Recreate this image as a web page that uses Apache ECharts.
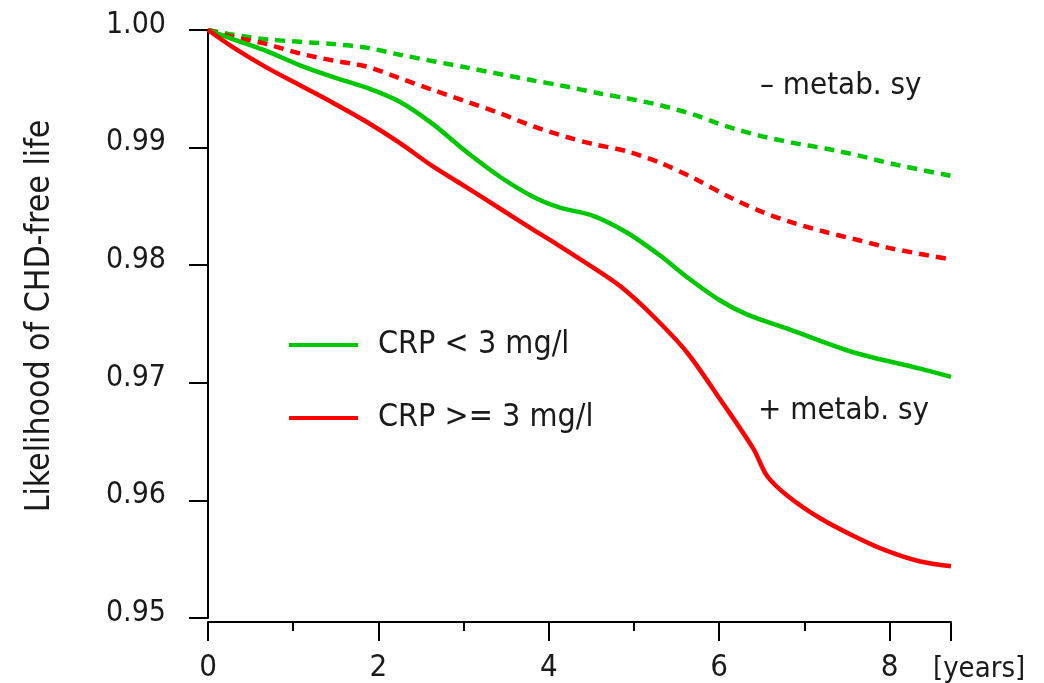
<!DOCTYPE html>
<html>
<head>
<meta charset="utf-8">
<script src="https://cdn.jsdelivr.net/npm/echarts@6/dist/echarts.min.js"></script>
<style>
html,body{margin:0;padding:0;background:#fff;}
#chart{width:1044px;height:683px;}
</style>
</head>
<body>
<div id="chart"></div>
<script>
// ---- data ----
var xTicks = [0, 2, 4, 6, 8];
var yTicks = [0.95, 0.96, 0.97, 0.98, 0.99, 1.00];

var greenSolidX = [0, 0.30, 0.69, 1.08, 1.47, 1.86, 2.25, 2.64, 3.04, 3.43, 3.82, 4.13, 4.52, 4.91, 5.31, 5.62, 6.01, 6.33, 6.80, 7.57, 8.36, 8.72];
var greenSolidY = [1.0000, 0.9992, 0.9982, 0.9970, 0.9960, 0.9951, 0.9939, 0.9920, 0.9896, 0.9875, 0.9858, 0.9849, 0.9842, 0.9828, 0.9808, 0.9790, 0.9770, 0.9758, 0.9746, 0.9726, 0.9712, 0.9705];

var redSolidX = [0, 0.30, 0.69, 1.08, 1.47, 1.86, 2.25, 2.64, 3.04, 3.43, 3.82, 4.09, 4.52, 4.84, 5.22, 5.62, 6.01, 6.40, 6.56, 6.80, 7.18, 7.57, 7.97, 8.36, 8.72];
var redSolidY = [1.0000, 0.9985, 0.9968, 0.9953, 0.9938, 0.9922, 0.9904, 0.9884, 0.9866, 0.9848, 0.9830, 0.9818, 0.9798, 0.9782, 0.9757, 0.9726, 0.9686, 0.9644, 0.9621, 0.9604, 0.9585, 0.9570, 0.9557, 0.9548, 0.9544];

var greenDashX = [0, 0.30, 0.69, 1.47, 1.86, 2.25, 3.04, 3.82, 4.13, 4.60, 4.91, 5.31, 5.70, 6.09, 6.48, 6.87, 7.26, 7.65, 8.04, 8.72];
var greenDashY = [1.0000, 0.9996, 0.9992, 0.9988, 0.9985, 0.9979, 0.9968, 0.9957, 0.9953, 0.9946, 0.9942, 0.9936, 0.9928, 0.9918, 0.9910, 0.9904, 0.9899, 0.9893, 0.9886, 0.9876];

var redDashX = [0, 0.30, 0.69, 1.08, 1.47, 1.86, 2.25, 2.64, 3.04, 3.43, 3.82, 4.21, 4.52, 4.91, 5.31, 5.70, 6.09, 6.48, 6.87, 7.26, 7.65, 8.04, 8.72];
var redDashY = [1.0000, 0.9994, 0.9988, 0.9980, 0.9974, 0.9969, 0.9959, 0.9949, 0.9939, 0.9929, 0.9918, 0.9909, 0.9903, 0.9897, 0.9887, 0.9874, 0.9859, 0.9846, 0.9836, 0.9828, 0.9821, 0.9814, 0.9805];

var legendNames = ['CRP < 3 mg/l', 'CRP >= 3 mg/l'];
var yTitle = 'Likelihood of CHD-free life';
var xUnit = '[years]';
var annoMinus = '\u2013 metab. sy';
var annoPlus = '+ metab. sy';

// ---- chart ----
var FONT = "'DejaVu Sans Condensed', 'DejaVu Sans', sans-serif";
var TXT = '#1a1a1a';
var GREEN = '#00c800';
var RED = '#ff0000';

function pairs(xs, ys) { return xs.map(function (x, i) { return [x, ys[i]]; }); }

function lineSeries(name, xs, ys, color, dashed) {
  return {
    name: name,
    type: 'line',
    data: pairs(xs, ys),
    smooth: 0.3,
    showSymbol: false,
    symbol: 'none',
    lineStyle: { color: color, width: 4.5, type: dashed ? [10, 7] : 'solid', cap: 'butt' },
    itemStyle: { color: color },
    z: dashed ? 2 : 3
  };
}

var chart = echarts.init(document.getElementById('chart'), null, { renderer: 'canvas' });
chart.setOption({
  animation: false,
  backgroundColor: '#ffffff',
  grid: { left: 208, right: 93, top: 30, bottom: 63, containLabel: false },
  legend: {
    data: legendNames,
    orient: 'vertical',
    left: 284,
    top: 322,
    icon: 'rect',
    itemWidth: 69,
    itemHeight: 4,
    itemGap: 37,
    textStyle: { fontFamily: FONT, fontSize: 32, color: TXT, lineHeight: 36, padding: [0, 0, 0, 15] }
  },
  xAxis: {
    type: 'value',
    min: 0,
    max: 8.72,
    interval: 2,
    offset: 4,
    axisLine: { show: true, onZero: false, lineStyle: { color: '#000', width: 2 } },
    axisTick: { show: true, length: 19, lineStyle: { color: '#000', width: 2 } },
    minorTick: { show: true, splitNumber: 2, length: 9, lineStyle: { color: '#000', width: 2 } },
    splitLine: { show: false },
    axisLabel: {
      fontFamily: FONT, fontSize: 31, color: TXT, margin: 30,
      showMaxLabel: false,
      formatter: function (v) { return xTicks.indexOf(v) >= 0 ? String(v) : ''; }
    }
  },
  yAxis: {
    type: 'value',
    min: 0.95,
    max: 1.0,
    interval: 0.01,
    name: yTitle,
    nameLocation: 'middle',
    nameRotate: 90,
    nameGap: 151,
    nameTextStyle: { fontFamily: FONT, fontSize: 33.5, color: TXT, padding: [0, 0, 0, 16] },
    axisLine: { show: true, lineStyle: { color: '#000', width: 2 } },
    axisTick: { show: true, length: 19, lineStyle: { color: '#000', width: 2 } },
    splitLine: { show: false },
    axisLabel: {
      fontFamily: FONT, fontSize: 30, color: TXT, margin: 42,
      verticalAlign: 'bottom',
      lineHeight: 10,
      formatter: function (v) {
        for (var i = 0; i < yTicks.length; i++) {
          if (Math.abs(yTicks[i] - v) < 1e-6) return yTicks[i].toFixed(2);
        }
        return '';
      }
    }
  },
  graphic: [
    { type: 'text', x: 760, y: 86, style: { text: annoMinus, font: '31px ' + FONT, fill: TXT, align: 'left', verticalAlign: 'middle' } },
    { type: 'text', x: 758, y: 411, style: { text: annoPlus, font: '31px ' + FONT, fill: TXT, align: 'left', verticalAlign: 'middle' } },
    { type: 'text', x: 933, y: 669, style: { text: xUnit, font: '29px ' + FONT, fill: TXT, align: 'left', verticalAlign: 'middle' } }
  ],
  series: [
    lineSeries('CRP < 3 mg/l, \u2013 metab. sy', greenDashX, greenDashY, GREEN, true),
    lineSeries('CRP >= 3 mg/l, \u2013 metab. sy', redDashX, redDashY, RED, true),
    lineSeries(legendNames[0], greenSolidX, greenSolidY, GREEN, false),
    lineSeries(legendNames[1], redSolidX, redSolidY, RED, false)
  ]
});
</script>
</body>
</html>
